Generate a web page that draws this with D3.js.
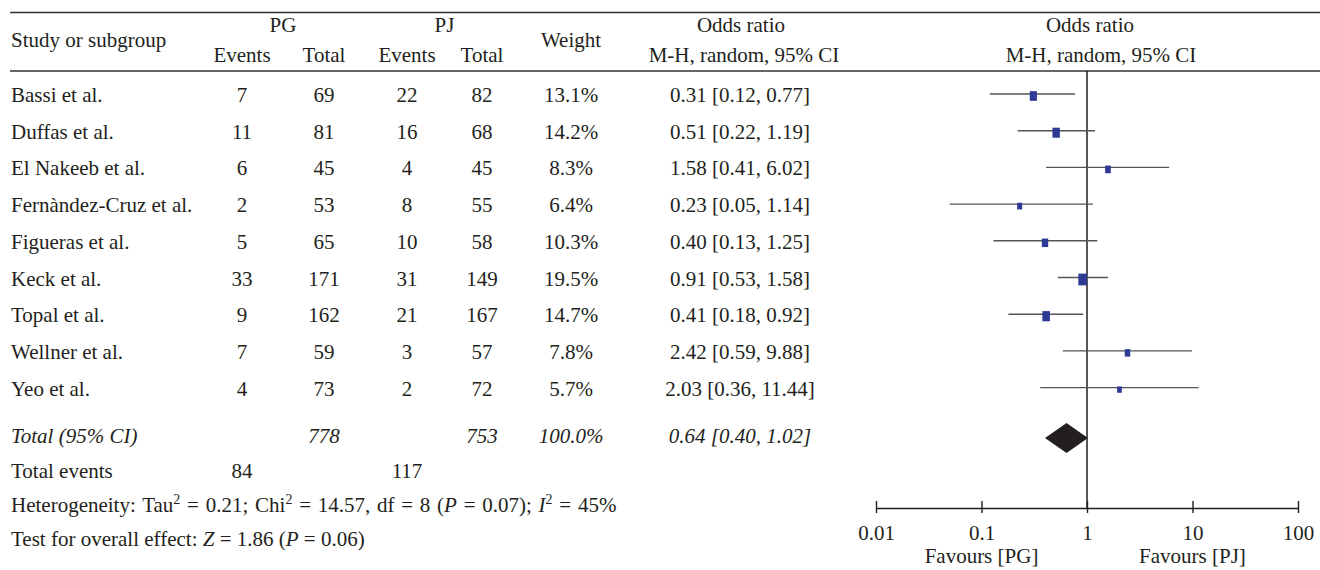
<!DOCTYPE html>
<html>
<head>
<meta charset="utf-8">
<script src="https://cdn.jsdelivr.net/npm/d3@7"></script>
<style>
  body { margin:0; background:#fff; }
  svg text { font-family:"Liberation Serif","DejaVu Serif",serif; font-size:21px; fill:#231f20; }
  .it { font-style:italic; }
</style>
</head>
<body>
<svg id="chart" width="1320" height="570"></svg>
<script>
// study rows
const studies = ["Bassi et al.", "Duffas et al.", "El Nakeeb et al.", "Fernàndez-Cruz et al.",
  "Figueras et al.", "Keck et al.", "Topal et al.", "Wellner et al.", "Yeo et al."];
const pgEvents = [7, 11, 6, 2, 5, 33, 9, 7, 4];
const pgTotal  = [69, 81, 45, 53, 65, 171, 162, 59, 73];
const pjEvents = [22, 16, 4, 8, 10, 31, 21, 3, 2];
const pjTotal  = [82, 68, 45, 55, 58, 149, 167, 57, 72];
const weights  = [13.1, 14.2, 8.3, 6.4, 10.3, 19.5, 14.7, 7.8, 5.7];
const oddsRatio = [0.31, 0.51, 1.58, 0.23, 0.40, 0.91, 0.41, 2.42, 2.03];
const ciLow  = [0.12, 0.22, 0.41, 0.05, 0.13, 0.53, 0.18, 0.59, 0.36];
const ciHigh = [0.77, 1.19, 6.02, 1.14, 1.25, 1.58, 0.92, 9.88, 11.44];

// pooled
const totalPG = 778, totalPJ = 753, totalWeight = "100.0%";
const pooled = {or:0.64, lo:0.40, hi:1.02};
const eventsPG = 84, eventsPJ = 117;

const tickValues = [0.01, 0.1, 1, 10, 100];
const tickLabels = ["0.01", "0.1", "1", "10", "100"];

const svg = d3.select("#chart");
const fmt2 = d3.format(".2f");

// column centres
const col = {study:11, pgE:242, pgT:324, pjE:407, pjT:482, wt:571, orTxt:740};

const x = d3.scaleLog().domain([0.01, 100]).range([876, 1298]);
const rowY = d3.scaleLinear().domain([0, studies.length - 1]).range([102, 395.6]); // baselines
const sqW = d3.scaleSqrt().domain([0, 20]).range([0, 8.8]);

const yTotal = 443, yEvents = 478, yHet = 512, yTest = 546, yAxis = 508;

function txt(s, px, py, anchor, cls){
  return svg.append("text").attr("x", px).attr("y", py)
    .attr("text-anchor", anchor || "middle").attr("class", cls || null).text(s);
}

// rules
svg.append("line").attr("x1",10).attr("x2",1320).attr("y1",12.5).attr("y2",12.5)
  .attr("stroke","#333").attr("stroke-width",1.5);
svg.append("line").attr("x1",10).attr("x2",1320).attr("y1",71).attr("y2",71)
  .attr("stroke","#333").attr("stroke-width",1.5);

// headers
txt("Study or subgroup", col.study, 46.5, "start");
txt("PG", (col.pgE + col.pgT)/2, 31.5);
txt("PJ", (col.pjE + col.pjT)/2, 31.5);
txt("Events", col.pgE, 61.5); txt("Total", col.pgT, 61.5);
txt("Events", col.pjE, 61.5); txt("Total", col.pjT, 61.5);
txt("Weight", col.wt, 46.5);
txt("Odds ratio", 741, 31.5); txt("M-H, random, 95% CI", 744, 61.5);
txt("Odds ratio", 1090, 31.5); txt("M-H, random, 95% CI", 1101, 61.5);

// table body
studies.forEach((s, i) => {
  const y = rowY(i);
  txt(s, col.study, y, "start");
  txt(pgEvents[i], col.pgE, y); txt(pgTotal[i], col.pgT, y);
  txt(pjEvents[i], col.pjE, y); txt(pjTotal[i], col.pjT, y);
  txt(weights[i].toFixed(1) + "%", col.wt, y);
  txt(`${fmt2(oddsRatio[i])} [${fmt2(ciLow[i])}, ${fmt2(ciHigh[i])}]`, col.orTxt, y);
});

txt("Total (95% CI)", col.study, yTotal, "start", "it");
txt(totalPG, col.pgT, yTotal, "middle", "it");
txt(totalPJ, col.pjT, yTotal, "middle", "it");
txt(totalWeight, col.wt, yTotal, "middle", "it");
txt(`${fmt2(pooled.or)} [${fmt2(pooled.lo)}, ${fmt2(pooled.hi)}]`, col.orTxt, yTotal, "middle", "it");

txt("Total events", col.study, yEvents, "start");
txt(eventsPG, col.pgE, yEvents); txt(eventsPJ, col.pjE, yEvents);

// heterogeneity line with sup/italics
const het = svg.append("text").attr("x", col.study).attr("y", yHet).style("word-spacing","1.5px");
const parts = [["Heterogeneity: Tau"],["2","sup"],[" = 0.21; Chi"],["2","sup"],[" = 14.57, df = 8 ("],["P","it"],[" = 0.07); "],["I","it"],["2","sup"],[" = 45%"]];
parts.forEach(([t, k], i) => {
  const ts = het.append("tspan").text(t);
  if (k === "it") ts.style("font-style","italic");
  if (k === "sup") ts.attr("dy", -8).style("font-size","14px");
  else if (i > 0 && parts[i-1][1] === "sup") ts.attr("dy", 8);
});

const test = svg.append("text").attr("x", col.study).attr("y", yTest);
[["Test for overall effect: "],["Z","it"],[" = 1.86 ("],["P","it"],[" = 0.06)"]].forEach(([t,k]) => {
  const ts = test.append("tspan").text(t);
  if (k === "it") ts.style("font-style","italic");
});

// forest plot
const plot = svg.append("g");

plot.append("line").attr("x1", x(1)).attr("x2", x(1)).attr("y1", 71).attr("y2", yAxis)
  .attr("stroke","#111").attr("stroke-width",1.4);

studies.forEach((s, i) => {
  const yc = rowY(i) - 8;
  plot.append("line").attr("x1", x(ciLow[i])).attr("x2", x(ciHigh[i]))
    .attr("y1", yc).attr("y2", yc).attr("stroke","#555").attr("stroke-width",1.4);
  const w = sqW(weights[i]), h = w * 1.35;
  plot.append("rect").attr("x", x(oddsRatio[i]) - w/2).attr("y", yc + 2 - h/2)
    .attr("width", w).attr("height", h).attr("fill","#2e3a94");
});

const yd = 438;
plot.append("path")
  .attr("d", `M${x(pooled.lo)},${yd} L${x(pooled.or)},${yd-15} L${x(pooled.hi)},${yd} L${x(pooled.or)},${yd+15} Z`)
  .attr("fill","#231f20");

// axis
const axis = d3.axisBottom(x).tickValues(tickValues)
  .tickFormat((d, i) => tickLabels[i]).tickSizeOuter(0).tickSizeInner(5).tickPadding(0);
const ax = plot.append("g").attr("transform", `translate(0,${yAxis})`).call(axis);
ax.select(".domain").attr("stroke","#231f20").attr("stroke-width",1.4);
ax.selectAll(".tick line").attr("y1", -7).attr("y2", 5).attr("stroke","#231f20").attr("stroke-width",1.4);
ax.selectAll(".tick text").attr("y", 32).attr("dy", null)
  .style("font-family","Liberation Serif").style("font-size","21px").attr("fill","#231f20");

txt("Favours [PG]", x(0.1), 563);
txt("Favours [PJ]", x(10), 563);
</script>
</body>
</html>
